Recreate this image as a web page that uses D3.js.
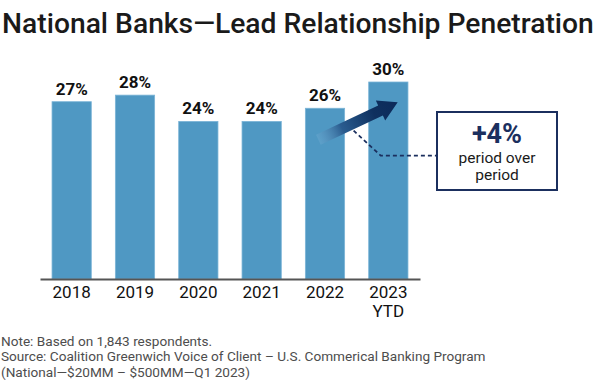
<!DOCTYPE html>
<html>
<head>
<meta charset="utf-8">
<script src="https://cdn.jsdelivr.net/npm/d3@7"></script>
<style>
body { margin: 0; background: #fff; }
svg text { font-family: Roboto, "Liberation Sans", sans-serif; }
.title { font-weight: 500; fill: #1a1a1a; }
.val { font-weight: 700; font-size: 17px; fill: #111; }
.yr { font-size: 17px; fill: #111; }
.note { font-size: 13px; fill: #4d4d4d; }
</style>
</head>
<body>
<div id="chart"></div>
<script>
var years = ["2018", "2019", "2020", "2021", "2022", "2023"];
var yearSub = ["", "", "", "", "", "YTD"];
var values = [27, 28, 24, 24, 26, 30];
var notes = [
  "Note: Based on 1,843 respondents.",
  "Source: Coalition Greenwich Voice of Client \u2013 U.S. Commerical Banking Program",
  "(National\u2014$20MM \u2013 $500MM\u2014Q1 2023)"
];

var W = 597, H = 391;
var svg = d3.select("#chart").append("svg")
  .attr("width", W).attr("height", H);

// title, stretched to the full width
var title = svg.append("text").attr("class", "title")
  .attr("x", 2).attr("y", 33)
  .style("font-size", "27px")
  .text("National Banks\u2014Lead Relationship Penetration");
var tw = title.node().getComputedTextLength();
title.style("font-size", (27 * 592 / tw) + "px");

var x = d3.scaleBand().domain(years).range([40, 420])
  .paddingInner(0.38).paddingOuter(0.19);
var y = d3.scaleLinear().domain([0, 30]).range([279, 82]);

svg.selectAll("rect.bar").data(values).enter().append("rect")
  .attr("class", "bar")
  .attr("x", function(d, i) { return x(years[i]); })
  .attr("y", function(d) { return y(d); })
  .attr("width", x.bandwidth())
  .attr("height", function(d) { return y(0) - y(d); })
  .attr("fill", "#4f98c3")
  .attr("stroke", "#7cb4d7")
  .attr("stroke-width", 0.8);

svg.selectAll("text.val").data(values).enter().append("text")
  .attr("class", "val")
  .attr("x", function(d, i) { return x(years[i]) + x.bandwidth() / 2; })
  .attr("y", function(d) { return y(d) - 7; })
  .attr("text-anchor", "middle")
  .text(function(d) { return d + "%"; });

// axis
var xAxis = d3.axisBottom(x).tickSize(0).tickPadding(7);
var ax = svg.append("g").attr("transform", "translate(0," + y(0) + ")").call(xAxis);
ax.select(".domain").attr("stroke", "#555").attr("stroke-width", 2);
ax.selectAll(".tick text").attr("class", "yr").attr("font-size", null).attr("font-family", null)
  .each(function(d, i) {
    var t = d3.select(this);
    var sub = yearSub[years.indexOf(d)];
    if (sub) {
      t.append("tspan").attr("x", 0).attr("dy", "1.12em").text(sub);
    }
  });

// dashed leader from arrow to callout box
var b22 = x("2022"), b23 = x("2023"), bw = x.bandwidth();
svg.append("path")
  .attr("d", d3.line()([[b22 + bw + 9, y(22.6)], [b23 + 12, y(18.8)], [436, y(18.8)]]))
  .attr("fill", "none").attr("stroke", "#1b2f5e")
  .attr("stroke-width", 1.8).attr("stroke-dasharray", "4,3");

// arrow with gradient (drawn along local x axis, then rotated)
var defs = svg.append("defs");
var tail = [b22 + 13, y(21.2)], tip = [b23 + 29, y(26.9)];
var dx = tip[0] - tail[0], dy = tip[1] - tail[1];
var len = Math.sqrt(dx * dx + dy * dy);
var ang = Math.atan2(dy, dx) * 180 / Math.PI;
var grad = defs.append("linearGradient").attr("id", "ag")
  .attr("gradientUnits", "userSpaceOnUse")
  .attr("x1", 0).attr("y1", 0).attr("x2", len).attr("y2", 0);
grad.append("stop").attr("offset", "0").attr("stop-color", "#6aa8d0").attr("stop-opacity", 0.5);
grad.append("stop").attr("offset", "0.3").attr("stop-color", "#2a5c8f");
grad.append("stop").attr("offset", "0.7").attr("stop-color", "#0f305f");
grad.append("stop").attr("offset", "1").attr("stop-color", "#0c2a5a");

var hw = 5.5, headL = 19, headW = 11;
svg.append("path")
  .attr("transform", "translate(" + tail[0] + "," + tail[1] + ") rotate(" + ang + ")")
  .attr("d", "M0," + (-hw) + "L" + (len - headL) + "," + (-hw) + "L" + (len - headL) + "," + (-headW) +
    "L" + len + ",0L" + (len - headL) + "," + headW + "L" + (len - headL) + "," + hw + "L0," + hw + "Z")
  .attr("fill", "url(#ag)");

// callout box
var box = svg.append("g");
box.append("rect").attr("x", 437).attr("y", 112).attr("width", 120).attr("height", 78)
  .attr("fill", "#fff").attr("stroke", "#1b2f5e").attr("stroke-width", 2);
box.append("text").attr("x", 497).attr("y", 143).attr("text-anchor", "middle")
  .style("font-size", "27px").style("font-weight", 700).style("fill", "#1b2f5e")
  .text("+4%");
box.append("text").attr("x", 497).attr("y", 163).attr("text-anchor", "middle")
  .style("font-size", "15.5px").style("fill", "#1a1a1a").text("period over");
box.append("text").attr("x", 497).attr("y", 180).attr("text-anchor", "middle")
  .style("font-size", "15.5px").style("fill", "#1a1a1a").text("period");

// notes
svg.selectAll("text.note").data(notes).enter().append("text")
  .attr("class", "note")
  .attr("x", 1)
  .attr("y", function(d, i) { return 346 + i * 15.4; })
  .style("font-size", "13.6px")
  .text(function(d) { return d; });
</script>
</body>
</html>
